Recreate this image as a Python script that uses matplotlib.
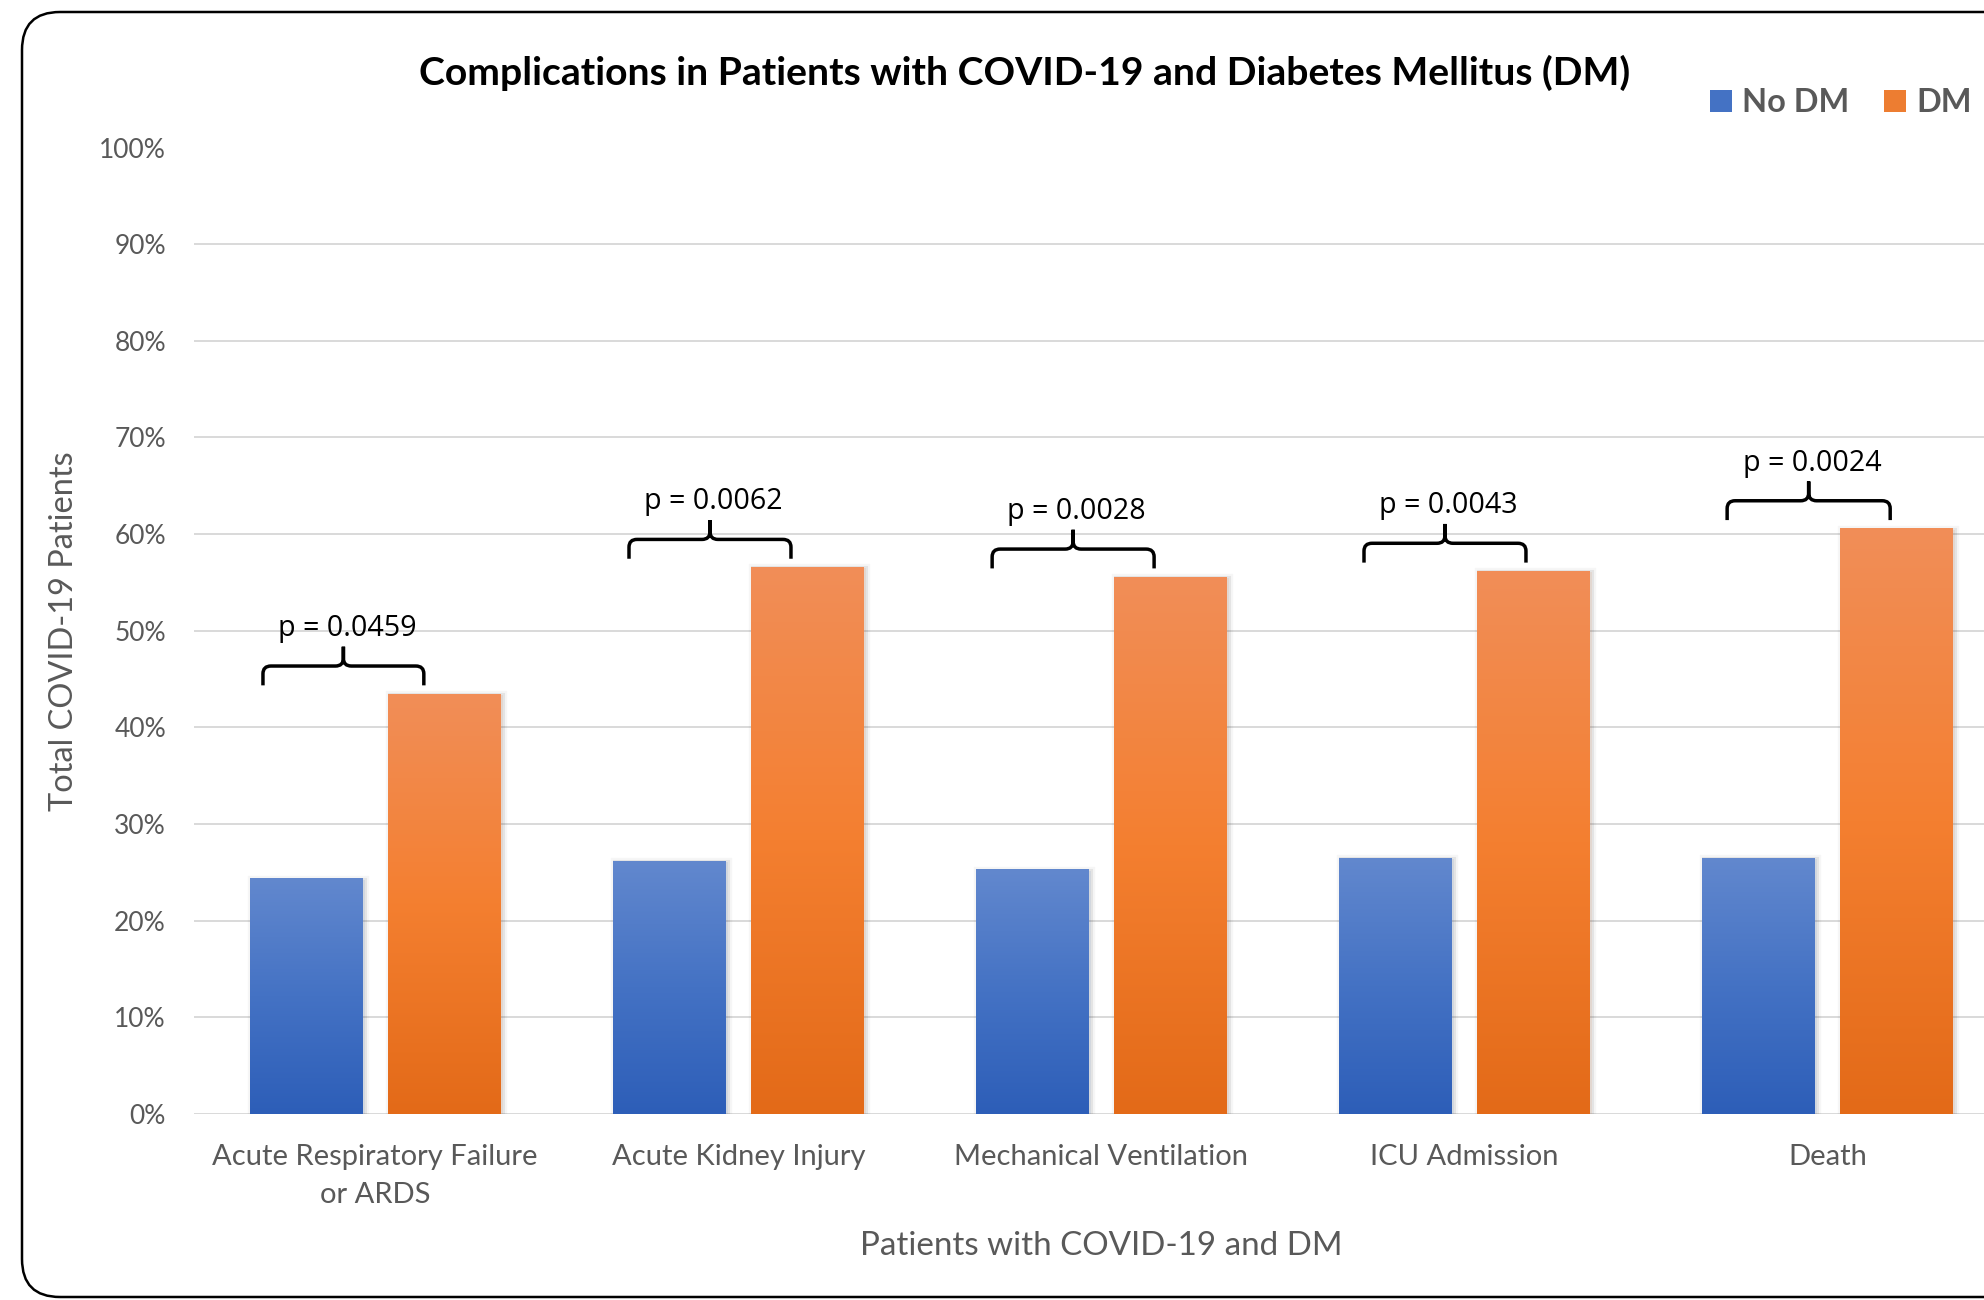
import numpy as np
import matplotlib
matplotlib.use("Agg")
import matplotlib.pyplot as plt
from matplotlib.path import Path
from matplotlib.patches import PathPatch, FancyBboxPatch, Patch
from matplotlib.transforms import IdentityTransform
from matplotlib.colors import LinearSegmentedColormap
import matplotlib.patheffects as pe

# ---------------- data ----------------
categories = ["Acute Respiratory Failure\nor ARDS", "Acute Kidney Injury",
              "Mechanical Ventilation", "ICU Admission", "Death"]
series_names = ["No DM", "DM"]
no_dm = [24.4, 26.2, 25.3, 26.5, 26.5]
dm = [43.5, 56.6, 55.6, 56.2, 60.6]
p_labels = ["p = 0.0459", "p = 0.0062", "p = 0.0028", "p = 0.0043", "p = 0.0024"]
yticks = list(range(0, 101, 10))
ytick_labels = [f"{t}%" for t in yticks]
title = "Complications in Patients with COVID-19 and Diabetes Mellitus (DM)"
xlabel = "Patients with COVID-19 and DM"
ylabel = "Total COVID-19 Patients"

# bracket layout (offsets from category centre, category units)
bracket_left = [-0.309, -0.301, -0.301, -0.277, -0.277]
bracket_right = [0.134, 0.145, 0.145, 0.169, 0.172]

plt.rcParams['font.family'] = ['Lato', 'DejaVu Sans']

W, H, DPI = 1984, 1300, 100
fig = plt.figure(figsize=(W / DPI, H / DPI), dpi=DPI)
fig.patch.set_facecolor('white')

# rounded chart frame (extends beyond right edge, as in the crop)
frame = FancyBboxPatch((22, 3), 2150, 1285,
                       boxstyle="round,pad=0,rounding_size=38",
                       transform=IdentityTransform(), fill=False,
                       edgecolor='black', linewidth=1.8)
fig.add_artist(frame)

ax_l, ax_r, ax_t, ax_b = 193.6, 2009.3, 147.5, 1114.0
ax = fig.add_axes([ax_l / W, (H - ax_b) / H, (ax_r - ax_l) / W, (ax_b - ax_t) / H])

x = np.arange(len(categories))
off, bw = 0.19, 0.311
b1 = ax.bar(x - off, no_dm, bw, color='#4472C4', zorder=2, linewidth=0)
b2 = ax.bar(x + off, dm, bw, color='#ED7D31', zorder=2, linewidth=0)

shadow = [pe.Stroke(linewidth=6, foreground='black', alpha=0.035, offset=(1.5, -1)),
          pe.Stroke(linewidth=3, foreground='black', alpha=0.07, offset=(1.5, -1)),
          pe.Normal()]

def gradient(bars, top, mid, bottom):
    cmap = LinearSegmentedColormap.from_list('g', [bottom, mid, top])
    grad = np.linspace(0, 1, 256).reshape(-1, 1)
    for b in bars:
        b.set_path_effects(shadow)
        x0, y0, w, h = b.get_x(), b.get_y(), b.get_width(), b.get_height()
        im = ax.imshow(grad, cmap=cmap, extent=[x0, x0 + w, y0, y0 + h],
                       origin='lower', aspect='auto', zorder=2.5,
                       interpolation='bilinear')
        im.set_clip_path(b)

gradient(b1, '#6288CE', '#4472C4', '#2D5EB8')
gradient(b2, '#F18E58', '#F47F30', '#E36A18')

# significance brackets
rx, ry, hook = 0.022, 0.8, 2.0
for i, (val, lab) in enumerate(zip(dm, p_labels)):
    x0, x1 = i + bracket_left[i], i + bracket_right[i]
    xm = (x0 + x1) / 2
    y = val + 2.85
    verts = [(x0, y - hook), (x0, y - ry), (x0, y), (x0 + rx, y),
             (xm - rx, y), (xm, y), (xm, y + ry), (xm, y + hook),
             (xm, y + hook), (xm, y + ry), (xm, y), (xm + rx, y),
             (x1 - rx, y), (x1, y), (x1, y - ry), (x1, y - hook)]
    codes = [Path.MOVETO, Path.LINETO, Path.CURVE3, Path.CURVE3,
             Path.LINETO, Path.CURVE3, Path.CURVE3, Path.LINETO,
             Path.MOVETO, Path.LINETO, Path.CURVE3, Path.CURVE3,
             Path.LINETO, Path.CURVE3, Path.CURVE3, Path.LINETO]
    ax.add_patch(PathPatch(Path(verts, codes), fill=False, edgecolor='black',
                           linewidth=2.5, capstyle='butt', joinstyle='round',
                           zorder=4))
    ax.text(xm + 0.01, y + 3.1, lab, ha='center', va='baseline',
            family=['Open Sans', 'DejaVu Sans'], fontsize=20.6, color='black',
            zorder=5)

ax.set_xlim(-0.5, 4.5)
ax.set_ylim(0, 100)
ax.set_xticks(x, categories)
ax.set_yticks(yticks, ytick_labels)
ax.tick_params(axis='x', length=0, pad=21.5, labelsize=21, labelcolor='#595959')
ax.tick_params(axis='y', length=0, pad=19.9, labelsize=19, labelcolor='#595959')
for lbl in ax.get_xticklabels():
    lbl.set_linespacing(1.6)
for s in ax.spines.values():
    s.set_visible(False)
ax.yaxis.grid(True, color='#D9D9D9', linewidth=1.4)
ax.set_axisbelow(True)

ax.set_xlabel(xlabel, fontsize=23.9, color='#595959')
ax.xaxis.set_label_coords(0.5, -141 / (ax_b - ax_t))
ax.xaxis.label.set_va('baseline')
ax.set_ylabel(ylabel, fontsize=23.4, color='#595959')
ax.yaxis.set_label_coords(-129.6 / (ax_r - ax_l), 0.5)
ax.yaxis.label.set_va('center')

fig.text(1024.5 / W, 1 - 85 / H, title, ha='center', va='baseline',
         fontsize=28.2, fontweight='bold', color='black')

fig.legend(handles=[Patch(facecolor='#4472C4'), Patch(facecolor='#ED7D31')],
           labels=series_names, loc='center left',
           bbox_to_anchor=(1710 / W, 1 - 103 / H), ncol=2, frameon=False,
           prop=dict(family='Lato', weight='bold', size=23.4),
           labelcolor='#595959', handlelength=0.68, handleheight=0.68,
           handletextpad=0.3, columnspacing=1.08, borderaxespad=0, borderpad=0)

fig.savefig('out.png', dpi=DPI)
